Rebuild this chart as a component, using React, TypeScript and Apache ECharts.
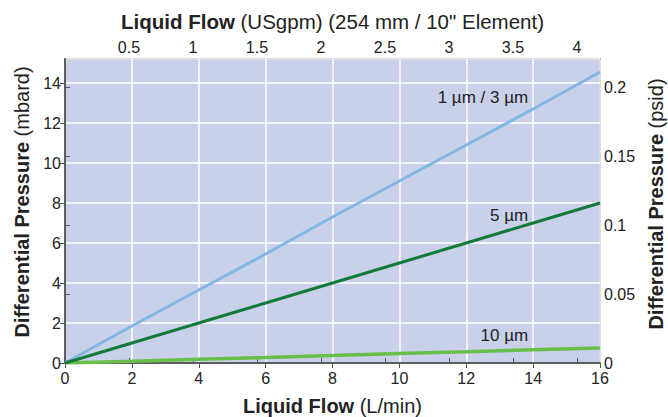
import React, { useEffect, useRef } from "react";
import * as echarts from "echarts";

const flowLmin = [0, 2, 4, 6, 8, 10, 12, 14, 16];
const dp1_3um = [0, 1.85, 3.65, 5.45, 7.3, 9.1, 10.9, 12.7, 14.55];
const dp5um = [0, 1, 2, 3, 4, 5, 6, 7, 8];
const dp10um = [0, 0.09, 0.19, 0.28, 0.38, 0.47, 0.56, 0.66, 0.75];
const seriesNames = ["1 µm / 3 µm", "5 µm", "10 µm"];
const labelCoords = [
  [13.85, 13.3],
  [13.85, 7.37],
  [13.85, 1.37],
];

const FONT = "'Liberation Sans', Arial, Helvetica, sans-serif";
const TXT = "#222";

export default function App() {
  const ref = useRef<HTMLDivElement>(null);
  useEffect(() => {
    document.body.style.margin = "0";
    const chart = echarts.init(ref.current!, undefined, { renderer: "svg" });
    const pair = (ys: number[]) => flowLmin.map((x, i) => [x, ys[i]]);
    const axisLine = { show: true, lineStyle: { color: "#555", width: 1.5 } };
    const axisTick = { show: true, length: 5, lineStyle: { color: "#555", width: 1 } };
    const label = { color: TXT, fontSize: 16, fontFamily: FONT };
    const rich = (size: number) => ({
      b: { fontWeight: "bold" as const, fontSize: size, fontFamily: FONT, color: TXT },
      n: { fontWeight: "normal" as const, fontSize: size, fontFamily: FONT, color: TXT },
    });
    const mk = (i: number) => ({
      symbol: "circle",
      symbolSize: 0,
      silent: true,
      data: [
        {
          coord: labelCoords[i],
          label: {
            show: true,
            formatter: seriesNames[i],
            position: "left",
            distance: 0,
            color: TXT,
            fontSize: 17,
            fontFamily: FONT,
          },
        },
      ],
    });
    chart.setOption({
      animation: false,
      textStyle: { fontFamily: FONT },
      grid: {
        left: 65,
        right: 68,
        top: 59,
        bottom: 54,
        containLabel: false,
        outerBoundsMode: "none",
        show: true,
        backgroundColor: "#c9d1ea",
        borderColor: "#555",
        borderWidth: 1.5,
      },
      xAxis: [
        {
          type: "value",
          position: "bottom",
          min: 0,
          max: 16,
          interval: 2,
          axisLine,
          axisTick,
          axisLabel: { ...label, margin: 7 },
          splitLine: { show: true, lineStyle: { color: "#ffffff", width: 1.5 } },
          name: "{b|Liquid Flow }{n|(L/min)}",
          nameLocation: "middle",
          nameGap: 33,
          nameTextStyle: { rich: rich(20) },
        },
        {
          type: "value",
          position: "top",
          min: 0,
          max: 4.18,
          interval: 0.5,
          axisLine,
          axisTick,
          axisLabel: { ...label, margin: 4, showMinLabel: false, showMaxLabel: false },
          splitLine: { show: false },
          name: '{b|Liquid Flow }{n|(USgpm) (254 mm / 10" Element)}',
          nameLocation: "middle",
          nameGap: 27,
          nameTextStyle: { rich: rich(20.5) },
        },
      ],
      yAxis: [
        {
          type: "value",
          position: "left",
          min: 0,
          max: 15.2,
          interval: 2,
          axisLine,
          axisTick,
          axisLabel: { ...label, margin: 4, showMaxLabel: false },
          splitLine: { show: true, lineStyle: { color: "#ffffff", width: 1.5 } },
          name: "{b|Differential Pressure }{n|(mbard)}",
          nameLocation: "middle",
          nameGap: 32,
          nameTextStyle: { rich: rich(20), padding: [0, 0, 0, 18] },
        },
        {
          type: "value",
          position: "right",
          min: 0,
          max: 0.2205,
          interval: 0.05,
          axisLine,
          axisTick,
          axisLabel: { ...label, margin: 4, showMaxLabel: false },
          splitLine: { show: false },
          name: "{b|Differential Pressure }{n|(psid)}",
          nameLocation: "middle",
          nameGap: 45,
          nameTextStyle: { rich: rich(20), padding: [0, 0, 0, 14] },
        },
      ],
      series: [
        {
          name: seriesNames[0],
          type: "line",
          data: pair(dp1_3um),
          symbol: "none",
          lineStyle: { color: "#80b7e3", width: 3 },
          markPoint: mk(0),
          z: 3,
        },
        {
          name: seriesNames[1],
          type: "line",
          data: pair(dp5um),
          symbol: "none",
          lineStyle: { color: "#137a3a", width: 3 },
          markPoint: mk(1),
          z: 4,
        },
        {
          name: seriesNames[2],
          type: "line",
          data: pair(dp10um),
          symbol: "none",
          lineStyle: { color: "#6abf4b", width: 3.5 },
          markPoint: mk(2),
          z: 2,
        },
      ],
    });
    return () => chart.dispose();
  }, []);
  return <div ref={ref} style={{ width: 668, height: 417 }} />;
}
